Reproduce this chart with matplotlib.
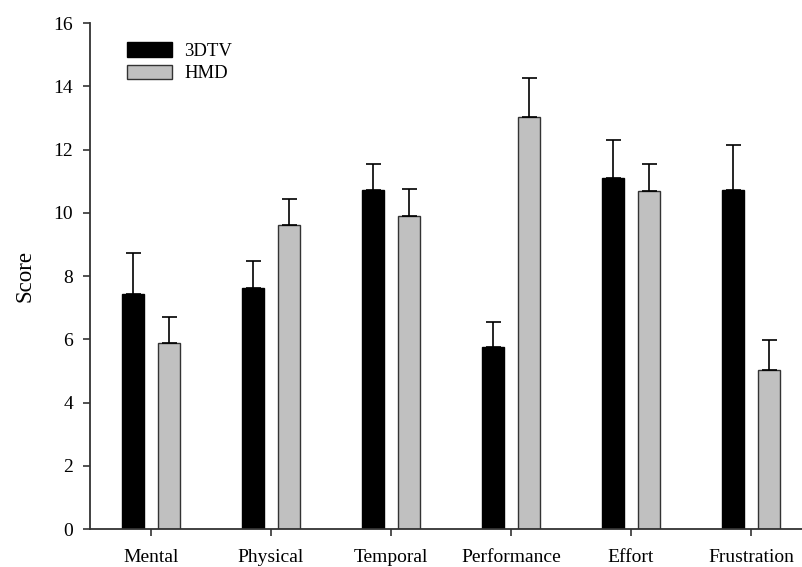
import numpy as np
import matplotlib
matplotlib.use("Agg")
import matplotlib.pyplot as plt
from matplotlib.patches import Patch

plt.rcParams["font.family"] = ["Liberation Serif", "DejaVu Serif"]

categories = ["Mental", "Physical", "Temporal", "Performance", "Effort", "Frustration"]
tv_mean = [7.42, 7.61, 10.73, 5.75, 11.09, 10.73]
tv_err = [1.30, 0.87, 0.82, 0.81, 1.21, 1.40]
hmd_mean = [5.87, 9.61, 9.91, 13.02, 10.68, 5.02]
hmd_err = [0.82, 0.82, 0.84, 1.24, 0.87, 0.96]

SPINE = "#333333"

fig = plt.figure(figsize=(8.02, 5.67), dpi=100)
ax = fig.add_axes([0.1122, 0.067, 0.8878, 0.8924])

x = np.arange(len(categories))
width = 0.183
offset = 0.15

err_kw = dict(ecolor="black", elinewidth=1.2, capsize=5.4, capthick=1.2)
ax.bar(x - offset, tv_mean, width, color="black", edgecolor="black", linewidth=1.0,
       yerr=[np.zeros(len(tv_err)), tv_err], error_kw=err_kw, zorder=2)
ax.bar(x + offset, hmd_mean, width, color="#c0c0c0", edgecolor=SPINE, linewidth=1.0,
       yerr=[np.zeros(len(hmd_err)), hmd_err], error_kw=err_kw, zorder=2)

ax.set_xlim(-0.508, 5.425)
ax.set_ylim(0, 16)
ax.set_yticks(np.arange(0, 17, 2))
ax.set_xticks(x)
ax.set_xticklabels(categories)
ax.set_ylabel("Score", fontsize=16.5, labelpad=13)

for side in ["top", "right"]:
    ax.spines[side].set_visible(False)
for side in ["left", "bottom"]:
    ax.spines[side].set_color(SPINE)
    ax.spines[side].set_linewidth(1.3)

ax.tick_params(axis="both", direction="out", length=5.2, width=1.2, color=SPINE,
               labelsize=14, labelcolor="black")
ax.tick_params(axis="y", pad=7)
ax.tick_params(axis="x", pad=9)

handles = [Patch(facecolor="black", edgecolor="black", label="3DTV"),
           Patch(facecolor="#c0c0c0", edgecolor=SPINE, label="HMD")]
ax.legend(handles=handles, loc="upper left", bbox_to_anchor=(0.042, 0.977),
          frameon=False, fontsize=13.5, handlelength=2.4, handleheight=0.8,
          handletextpad=0.64, labelspacing=0.25, borderaxespad=0)

fig.savefig("out.png", dpi=100)
